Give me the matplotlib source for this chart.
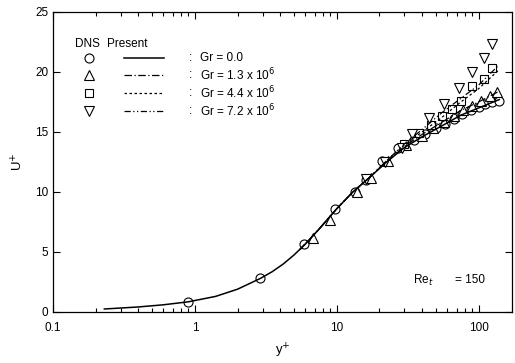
import numpy as np
import matplotlib.pyplot as plt
from matplotlib.ticker import LogLocator, NullFormatter

plt.rcParams['font.family'] = ['Liberation Sans', 'DejaVu Sans']

# ---- DNS data (markers) ----
yp_gr0 = [0.9, 2.9, 5.9, 9.7, 13.4, 16, 21, 27, 35, 42, 50, 58, 67, 77, 88, 100, 112, 125, 140]
u_gr0 = [0.8, 2.8, 5.7, 8.6, 10.0, 11.0, 12.6, 13.7, 14.3, 14.8, 15.3, 15.7, 16.1, 16.5, 16.8, 17.1, 17.3, 17.5, 17.6]

yp_gr13 = [6.8, 9.0, 14.0, 17.5, 23, 31, 40, 48, 57, 67, 78, 90, 104, 120, 136]
u_gr13 = [6.2, 7.7, 10.0, 11.2, 12.6, 13.9, 14.7, 15.3, 15.8, 16.3, 16.8, 17.2, 17.6, 18.0, 18.3]

yp_gr44 = [30, 38, 46, 55, 65, 75, 90, 110, 124]
u_gr44 = [14.0, 14.9, 15.6, 16.3, 16.9, 17.6, 18.8, 19.4, 20.3]

yp_gr72 = [16, 22, 29, 34, 45, 57, 73, 90, 110, 124]
u_gr72 = [11.1, 12.5, 13.7, 14.8, 16.2, 17.3, 18.7, 20.0, 21.2, 22.3]

# ---- Present (lines) ----
yl_gr0 = [0.23, 0.4, 0.6, 0.9, 1.4, 2.0, 2.9, 3.5, 4.2, 5.0, 6.0, 7.5, 10, 13, 17, 22, 30, 40, 55, 75, 100, 140]
ul_gr0 = [0.25, 0.42, 0.6, 0.85, 1.3, 1.9, 2.8, 3.35, 4.0, 4.75, 5.65, 6.9, 8.6, 10.0, 11.2, 12.4, 13.7, 14.6, 15.5, 16.4, 17.0, 17.7]

yl_gr13 = [5.5, 7.5, 10, 13, 17, 22, 30, 40, 55, 75, 100, 140]
ul_gr13 = [5.2, 6.9, 8.6, 10.0, 11.2, 12.4, 13.8, 14.8, 15.8, 16.8, 17.5, 18.4]

yl_gr44 = [5.5, 7.5, 10, 13, 17, 22, 30, 40, 55, 75, 100, 140]
ul_gr44 = [5.2, 6.9, 8.6, 10.0, 11.2, 12.5, 13.9, 15.0, 16.2, 17.5, 18.6, 20.2]

yl_gr72 = [5.5, 7.5, 10, 13, 17, 22, 30, 40, 55, 75, 100, 140]
ul_gr72 = [5.2, 6.9, 8.6, 10.0, 11.2, 12.5, 14.0, 15.2, 16.6, 17.8, 18.9, 20.6]

labels = ['Gr = 0.0', 'Gr = 1.3 x 10$^6$', 'Gr = 4.4 x 10$^6$', 'Gr = 7.2 x 10$^6$']
markers = ['o', '^', 's', 'v']
styles = ['-', (0, (6, 2, 1, 2)), (0, (2, 2)), (0, (5, 2, 1, 2, 1, 2))]

fig = plt.figure(figsize=(5.15, 3.63), dpi=100)
ax = fig.add_axes([0.103, 0.1405, 0.891, 0.8265])

mk = dict(mfc='white', mec='black', mew=0.8, ls='none', ms=6.5)
ax.plot(yp_gr0, u_gr0, marker='o', **mk)
ax.plot(yp_gr13, u_gr13, marker='^', **mk)
ax.plot(yp_gr44, u_gr44, marker='s', **dict(mk, ms=5.5))
ax.plot(yp_gr72, u_gr72, marker='v', **mk)

ax.plot(yl_gr0, ul_gr0, color='black', lw=1.1, ls=styles[0])
ax.plot(yl_gr13, ul_gr13, color='black', lw=0.9, ls=styles[1])
ax.plot(yl_gr44, ul_gr44, color='black', lw=0.9, ls=styles[2])
ax.plot(yl_gr72, ul_gr72, color='black', lw=0.9, ls=styles[3])

ax.set_xscale('log')
ax.set_xlim(0.1, 172)
ax.set_ylim(0, 25)
ax.set_xticks([0.1, 1, 10, 100])
ax.set_xticklabels(['0.1', '1', '10', '100'])
ax.xaxis.set_minor_locator(LogLocator(base=10, subs=np.arange(2, 10)))
ax.xaxis.set_minor_formatter(NullFormatter())
ax.set_yticks([0, 5, 10, 15, 20, 25])
ax.tick_params(which='both', direction='in', top=True, right=True, labelsize=8.5, width=0.8)
ax.tick_params(which='major', length=5)
ax.tick_params(which='minor', length=3)
ax.tick_params(axis='x', pad=7)
for s in ax.spines.values():
    s.set_linewidth(0.9)

ax.set_xlabel('y$^{+}$', fontsize=9.5, labelpad=6)
ax.set_ylabel('U$^{+}$', fontsize=9.5, labelpad=7)

# legend drawn by hand
fig.text(75 / 515, 1 - 44 / 363, 'DNS', fontsize=8.5, va='center')
fig.text(107 / 515, 1 - 44 / 363, 'Present', fontsize=8.5, va='center')
rows = [58, 75, 93, 111]
for i in range(4):
    yy = 1 - rows[i] / 363
    m_ms = 5.5 if markers[i] == 's' else 6.5
    fig.lines.append(plt.Line2D([89 / 515], [yy], marker=markers[i], mfc='white', mec='black',
                                mew=0.8, ms=m_ms, ls='none', transform=fig.transFigure))
    fig.lines.append(plt.Line2D([124 / 515, 164 / 515], [yy, yy], color='black',
                                lw=1.1 if i == 0 else 0.9, ls=styles[i], transform=fig.transFigure))
    fig.text(189 / 515, yy, ':', fontsize=8.5, va='center')
    fig.text(200 / 515, yy, labels[i], fontsize=8.5, va='center')

ax.text(0.785, 0.095, 'Re$_t$', transform=ax.transAxes, fontsize=8.5)
ax.text(0.875, 0.095, '= 150', transform=ax.transAxes, fontsize=8.5)

fig.savefig('out.png', dpi=100)
